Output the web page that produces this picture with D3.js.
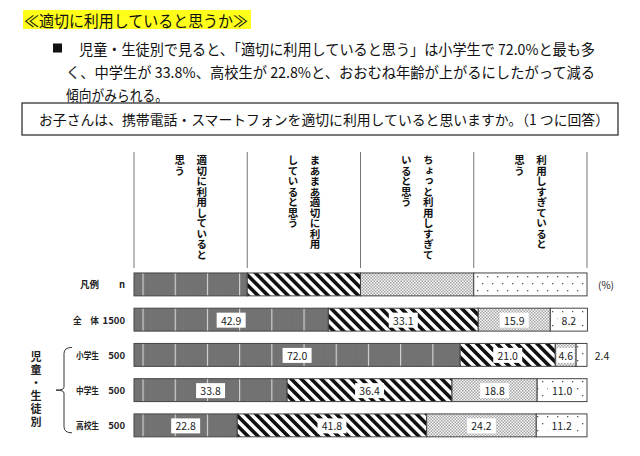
<!DOCTYPE html>
<html>
<head>
<meta charset="utf-8">
<script src="https://cdn.jsdelivr.net/npm/d3@7"></script>
<style>
  body { margin: 0; background: #fff; }
  svg { display: block; font-family: "Noto Sans CJK JP", "Noto Sans", sans-serif; }
</style>
</head>
<body>
<div id="chart"></div>
<script>
// 回答カテゴリ（見出しは2行に分けて縦書き）
const categories = ["適切に利用していると思う", "まあまあ適切に利用していると思う", "ちょっと利用しすぎていると思う", "利用しすぎていると思う"];
const headerLines = [
  ["適切に利用していると", "思う"],
  ["まあまあ適切に利用", "していると思う"],
  ["ちょっと利用しすぎて", "いると思う"],
  ["利用しすぎていると", "思う"]
];
const rows = ["凡例", "全　体", "小学生", "中学生", "高校生"];
const nLabels = ["n", "1500", "500", "500", "500"];
const legendValues = [25, 25, 25, 25];
const totalValues = [42.9, 33.1, 15.9, 8.2];
const elementaryValues = [72.0, 21.0, 4.6, 2.4];
const juniorValues = [33.8, 36.4, 18.8, 11.0];
const highValues = [22.8, 41.8, 24.2, 11.2];
const groupLabel = "児童・生徒別";

const rowValues = [legendValues, totalValues, elementaryValues, juniorValues, highValues];

const W = 640, H = 456;
const svg = d3.select("#chart").append("svg")
  .attr("width", W).attr("height", H);

// 見出し部分
svg.append("rect")
  .attr("x", 23).attr("y", 10).attr("width", 228).attr("height", 19)
  .style("fill", "#ffff1a");
svg.append("text")
  .attr("x", 24).attr("y", 19.5)
  .attr("dominant-baseline", "central")
  .attr("textLength", 224).attr("lengthAdjust", "spacingAndGlyphs")
  .style("font-size", "16px").style("fill", "#111")
  .text("≪適切に利用していると思うか≫");

svg.append("rect")
  .attr("x", 53).attr("y", 43.5).attr("width", 9).attr("height", 9)
  .style("fill", "#111");

const para = [
  { x: 79, y: 48, len: 516, t: "児童・生徒別で見ると、「適切に利用していると思う」は小学生で 72.0%と最も多" },
  { x: 66, y: 71, len: 529, t: "く、中学生が 33.8%、高校生が 22.8%と、おおむね年齢が上がるにしたがって減る" },
  { x: 66, y: 94, len: 102, t: "傾向がみられる。" }
];
svg.selectAll("text.para")
  .data(para)
  .enter().append("text")
  .attr("class", "para")
  .attr("x", d => d.x).attr("y", d => d.y)
  .attr("dominant-baseline", "central")
  .attr("textLength", d => d.len).attr("lengthAdjust", "spacingAndGlyphs")
  .style("font-size", "15px").style("fill", "#111")
  .text(d => d.t);

// 設問の枠
svg.append("rect")
  .attr("x", 22).attr("y", 103).attr("width", 596).attr("height", 32)
  .style("fill", "none").style("stroke", "#333").style("stroke-width", 1.3);
svg.append("text")
  .attr("x", 39).attr("y", 119)
  .attr("dominant-baseline", "central")
  .attr("textLength", 570).attr("lengthAdjust", "spacingAndGlyphs")
  .style("font-size", "14px").style("fill", "#111")
  .text("お子さんは、携帯電話・スマートフォンを適切に利用していると思いますか。（1 つに回答）");

// スケール
const x = d3.scaleLinear().domain([0, 100]).range([134, 587]);
const y = d3.scaleBand().domain(rows).range([266.8, 443]).paddingInner(0.35).paddingOuter(0.175);

// パターン
const defs = svg.append("defs");

const p1 = defs.append("pattern")
  .attr("id", "pat0").attr("patternUnits", "userSpaceOnUse")
  .attr("x", 142.5).attr("y", 0).attr("width", 32.2).attr("height", 4);
p1.append("rect").attr("width", 32.2).attr("height", 4).style("fill", "#727272");
p1.append("rect").attr("x", 8).attr("y", 0).attr("width", 1).attr("height", 1).style("fill", "#7c7c7c");
p1.append("rect").attr("x", 20).attr("y", 2).attr("width", 1).attr("height", 1).style("fill", "#686868");
p1.append("rect").attr("x", 0).attr("y", 0).attr("width", 1.1).attr("height", 4).style("fill", "#d8d8d8");

const p2 = defs.append("pattern")
  .attr("id", "pat1").attr("patternUnits", "userSpaceOnUse")
  .attr("width", 7.1).attr("height", 7.1)
  .attr("patternTransform", "rotate(-45)");
p2.append("rect").attr("width", 7.1).attr("height", 7.1).style("fill", "#fff");
p2.append("rect").attr("x", 0).attr("y", 0).attr("width", 3.6).attr("height", 7.1).style("fill", "#111");

const p3 = defs.append("pattern")
  .attr("id", "pat2").attr("patternUnits", "userSpaceOnUse")
  .attr("width", 3).attr("height", 3);
p3.append("rect").attr("width", 3).attr("height", 3).style("fill", "#f6f6f6");
p3.append("rect").attr("x", 0).attr("y", 0).attr("width", 1.5).attr("height", 1.5).style("fill", "#a6a6a6");
p3.append("rect").attr("x", 1.5).attr("y", 1.5).attr("width", 1.5).attr("height", 1.5).style("fill", "#a6a6a6");

const p4 = defs.append("pattern")
  .attr("id", "pat3").attr("patternUnits", "userSpaceOnUse")
  .attr("width", 10).attr("height", 14);
p4.append("rect").attr("width", 10).attr("height", 14).style("fill", "#fff");
p4.append("rect").attr("x", 2).attr("y", 3).attr("width", 1.3).attr("height", 1.3).style("fill", "#555");
p4.append("rect").attr("x", 7).attr("y", 10).attr("width", 1.3).attr("height", 1.3).style("fill", "#555");

// 見出しの区切り線
const headTop = 152, headBottom = 268;
svg.selectAll("line.head")
  .data([0, 25, 50, 75, 100])
  .enter().append("line")
  .attr("class", "head")
  .attr("x1", d => x(d)).attr("x2", d => x(d))
  .attr("y1", headTop).attr("y2", headBottom)
  .style("stroke", "#777").style("stroke-width", 1);

// 縦書きの見出し
headerLines.forEach((lines, i) => {
  const cx = (x(i * 25) + x(i * 25 + 25)) / 2;
  svg.append("g").selectAll("text")
    .data(lines)
    .enter().append("text")
    .attr("x", (d, j) => cx + (j === 0 ? 11 : -11))
    .attr("y", headTop + 3)
    .style("writing-mode", "vertical-rl")
    .style("font-size", "10.5px").style("font-weight", "bold").style("fill", "#111")
    .text(d => d);
});

// 棒グラフ
function segments(vals) {
  let acc = 0;
  return vals.map((v, i) => {
    const s = { start: acc, value: v, idx: i };
    acc += v;
    return s;
  });
}

rows.forEach((r, ri) => {
  const g = svg.append("g");
  const segs = segments(rowValues[ri]);
  g.selectAll("rect.seg")
    .data(segs)
    .enter().append("rect")
    .attr("class", "seg")
    .attr("x", d => x(d.start))
    .attr("y", y(r))
    .attr("width", d => x(d.start + d.value) - x(d.start))
    .attr("height", y.bandwidth())
    .style("fill", d => `url(#pat${d.idx})`)
    .style("stroke", "#444").style("stroke-width", 1);

  // 行ラベル
  const rowLabel = svg.append("text")
    .attr("x", 99)
    .attr("y", y(r) + y.bandwidth() / 2)
    .attr("text-anchor", "end")
    .attr("dominant-baseline", "central")
    .style("font-size", "9.5px").style("font-weight", "bold").style("fill", "#222")
    .text(r);
  if (r.length === 3) rowLabel.attr("textLength", ri === 1 ? 26 : 23).attr("lengthAdjust", "spacingAndGlyphs");
  svg.append("text")
    .attr("x", 125)
    .attr("y", y(r) + y.bandwidth() / 2)
    .attr("text-anchor", "end")
    .attr("dominant-baseline", "central")
    .style("font-size", "9.5px").style("font-weight", "bold").style("fill", "#222")
    .text(nLabels[ri]);

  if (ri === 0) return;

  // 数値ラベル
  segs.forEach(d => {
    const w = x(d.start + d.value) - x(d.start);
    const inside = w >= 15;
    const cx = inside ? (x(d.start) + x(d.start + d.value)) / 2 : x(100) + 15;
    const cy = y(r) + y.bandwidth() / 2 + 0.5;
    const label = d.value.toFixed(1);
    const t = g.append("text")
      .attr("x", cx).attr("y", cy)
      .attr("text-anchor", "middle")
      .attr("dominant-baseline", "central")
      .style("font-size", "10.5px").style("fill", "#222")
      .text(label);
    if (inside) {
      const bw = Math.min(label.length * 6 + 5, w - 3);
      g.insert("rect", () => t.node())
        .attr("x", cx - bw / 2).attr("y", cy - 7.5)
        .attr("width", bw).attr("height", 15)
        .style("fill", "#fff");
    }
  });
});

// (%)
svg.append("text")
  .attr("x", 598).attr("y", y("凡例") + y.bandwidth() / 2)
  .attr("dominant-baseline", "central")
  .style("font-size", "10px").style("fill", "#222")
  .text("(%)");

// 児童・生徒別 ラベルと括弧
const gTop = y("小学生") + 4, gBot = y("高校生") + y.bandwidth() - 4;
const gMid = (gTop + gBot) / 2;
svg.append("text")
  .attr("x", 36)
  .attr("y", gMid - 39)
  .style("writing-mode", "vertical-rl")
  .style("letter-spacing", "2px")
  .style("font-size", "11px").style("font-weight", "bold").style("fill", "#222")
  .text(groupLabel);

svg.append("path")
  .attr("d", `M72,${gTop} Q64,${gTop} 64,${gTop + 6} L64,${gMid - 3} Q64,${gMid} 56,${gMid} Q64,${gMid} 64,${gMid + 3} L64,${gBot - 6} Q64,${gBot} 72,${gBot}`)
  .style("fill", "none").style("stroke", "#333").style("stroke-width", 1);
</script>
</body>
</html>
